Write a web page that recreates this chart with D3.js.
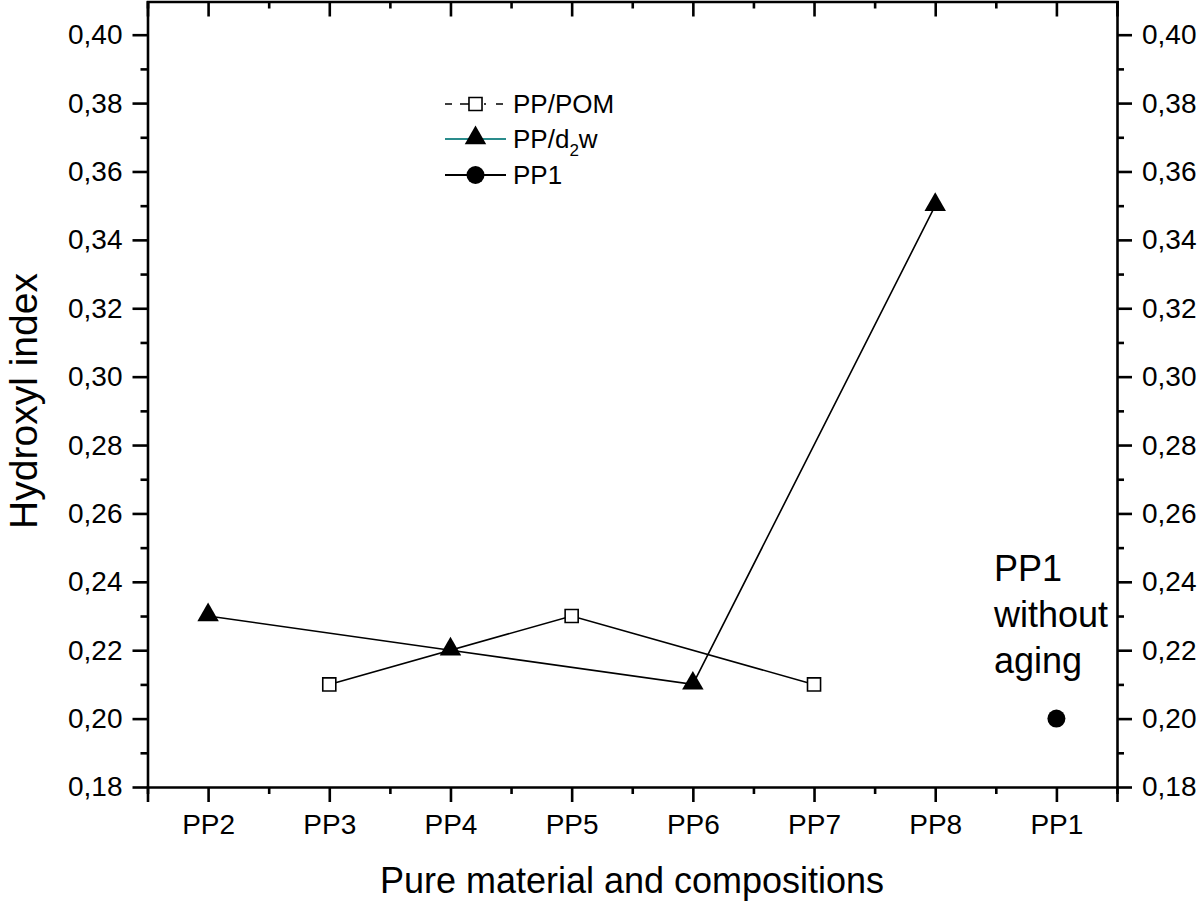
<!DOCTYPE html>
<html><head><meta charset="utf-8">
<script src="https://cdn.jsdelivr.net/npm/d3@7"></script>
<style>body{margin:0;background:#fff}svg{display:block}text{font-family:"Liberation Sans",Arial,sans-serif;fill:#000}</style>
</head><body><svg id="c" width="1200" height="902"></svg>
<script>
const categories = ["PP2","PP3","PP4","PP5","PP6","PP7","PP8","PP1"];
const pomCats = ["PP3","PP5","PP7"];
const pomValues = [0.21,0.23,0.21];
const d2wCats = ["PP2","PP4","PP6","PP8"];
const d2wValues = [0.23,0.22,0.21,0.35];
const pp1Cats = ["PP1"];
const pp1Values = [0.20];
const yTicks = [0.18,0.20,0.22,0.24,0.26,0.28,0.30,0.32,0.34,0.36,0.38,0.40];
const yMinorTicks = [0.19,0.21,0.23,0.25,0.27,0.29,0.31,0.33,0.35,0.37,0.39];
const legendLabels = ["PP/POM","PP/d2w","PP1"];
const annotation = ["PP1","without","aging"];

const svg = d3.select("#c");
const L=147.5, R=1117, T=0.5, B=787;
const x = d3.scaleLinear().domain([0.5, categories.length+0.5]).range([L,R]);
const xc = c => x(categories.indexOf(c)+1);
const y = d3.scaleLinear().domain([0.18,0.41]).range([B,T]);
const fmt = d => d3.format(".2f")(d).replace(".",",");
const catIdx = d3.range(1, categories.length+1);
const minorX = d3.range(0.5, categories.length+1, 1);

function styleAxis(g){
  g.selectAll("path.domain").attr("stroke","#000").attr("stroke-width",2.6);
  g.selectAll(".tick line").attr("stroke","#000").attr("stroke-width",2.6);
  g.selectAll(".tick text").style("font-size","28px").style("font-family","'Liberation Sans',Arial,sans-serif");
}
// bottom
const gb = svg.append("g").attr("transform",`translate(0,${B})`)
  .call(d3.axisBottom(x).tickValues(catIdx).tickSize(15).tickPadding(12).tickFormat(d=>categories[d-1]));
styleAxis(gb);
svg.append("g").attr("transform",`translate(0,${B})`).call(d3.axisBottom(x).tickValues(minorX).tickSize(7).tickFormat("")).call(styleAxis).select("path.domain").remove();
// top
const gt = svg.append("g").attr("transform",`translate(0,${T+1})`)
  .call(d3.axisBottom(x).tickValues(catIdx).tickSizeOuter(0).tickSize(15).tickFormat(""));
styleAxis(gt);
svg.append("g").attr("transform",`translate(0,${T+1})`).call(d3.axisBottom(x).tickValues(minorX).tickSize(7).tickFormat("")).call(styleAxis).select("path.domain").remove();
// left
const gl = svg.append("g").attr("transform",`translate(${L},0)`)
  .call(d3.axisLeft(y).tickValues(yTicks).tickSize(15).tickPadding(10).tickSizeOuter(0).tickFormat(fmt));
styleAxis(gl);
svg.append("g").attr("transform",`translate(${L},0)`).call(d3.axisLeft(y).tickValues(yMinorTicks).tickSize(7).tickFormat("")).call(styleAxis).select("path.domain").remove();
// right
const gr = svg.append("g").attr("transform",`translate(${R},0)`)
  .call(d3.axisRight(y).tickValues(yTicks).tickSize(15).tickPadding(10).tickSizeOuter(0).tickFormat(fmt));
styleAxis(gr);
svg.append("g").attr("transform",`translate(${R},0)`).call(d3.axisRight(y).tickValues(yMinorTicks).tickSize(7).tickFormat("")).call(styleAxis).select("path.domain").remove();

// lines
const line = d3.line().x(d=>xc(d[0])).y(d=>y(d[1]));
const pom = pomCats.map((c,i)=>[c,pomValues[i]]);
const d2w = d2wCats.map((c,i)=>[c,d2wValues[i]]);
const pp1 = pp1Cats.map((c,i)=>[c,pp1Values[i]]);
svg.append("path").datum(pom).attr("d",line).attr("fill","none").attr("stroke","#000").attr("stroke-width",1.6);
svg.append("path").datum(d2w).attr("d",line).attr("fill","none").attr("stroke","#000").attr("stroke-width",1.6);

const tri = d3.symbol().type(d3.symbolTriangle).size(200);
const sq = d3.symbol().type(d3.symbolSquare).size(170);
svg.selectAll(".sq").data(pom).join("path").attr("transform",d=>`translate(${xc(d[0])},${y(d[1])})`)
  .attr("d",sq()).attr("fill","#fff").attr("stroke","#000").attr("stroke-width",1.6);
svg.selectAll(".tri").data(d2w).join("path").attr("transform",d=>`translate(${xc(d[0])},${y(d[1])-1})`)
  .attr("d",tri()).attr("fill","#000");
svg.selectAll(".ci").data(pp1).join("circle").attr("cx",d=>xc(d[0])).attr("cy",d=>y(d[1])).attr("r",9).attr("fill","#000");

// legend
const lg = svg.append("g");
const lx0=445, lx1=506, ly=[104,139,175];
lg.append("line").attr("x1",lx0).attr("x2",lx1).attr("y1",ly[0]).attr("y2",ly[0]).attr("stroke","#000").attr("stroke-width",1.6).attr("stroke-dasharray","7,8,16,8,2,10");
lg.append("path").attr("transform",`translate(${(lx0+lx1)/2},${ly[0]})`).attr("d",sq()).attr("fill","#fff").attr("stroke","#000").attr("stroke-width",1.6);
lg.append("line").attr("x1",lx0).attr("x2",lx1).attr("y1",ly[1]).attr("y2",ly[1]).attr("stroke","#2a8c8c").attr("stroke-width",2);
lg.append("path").attr("transform",`translate(${(lx0+lx1)/2},${ly[1]-1})`).attr("d",tri()).attr("fill","#000");
lg.append("line").attr("x1",lx0).attr("x2",lx1).attr("y1",ly[2]).attr("y2",ly[2]).attr("stroke","#000").attr("stroke-width",2);
lg.append("circle").attr("cx",(lx0+lx1)/2).attr("cy",ly[2]).attr("r",9).attr("fill","#000");
lg.append("text").attr("x",513).attr("y",ly[0]+9).style("font-size","26px").text(legendLabels[0]);
const t2 = lg.append("text").attr("x",513).attr("y",ly[1]+9).style("font-size","26px");
t2.append("tspan").text("PP/d");
t2.append("tspan").attr("dy",8).style("font-size","17px").text("2");
t2.append("tspan").attr("dy",-8).text("w");
lg.append("text").attr("x",513).attr("y",ly[2]+9).style("font-size","26px").text(legendLabels[2]);

// annotation
svg.append("g").selectAll("text").data(annotation).join("text")
  .attr("x",994).attr("y",(d,i)=>581+i*46).style("font-size","36px").text(d=>d);

// axis titles
svg.append("text").attr("x",632).attr("y",893).attr("text-anchor","middle").style("font-size","36px").text("Pure material and compositions");
svg.append("text").attr("transform","translate(37,401) rotate(-90)").attr("text-anchor","middle").style("font-size","39px").text("Hydroxyl index");
</script></body></html>
